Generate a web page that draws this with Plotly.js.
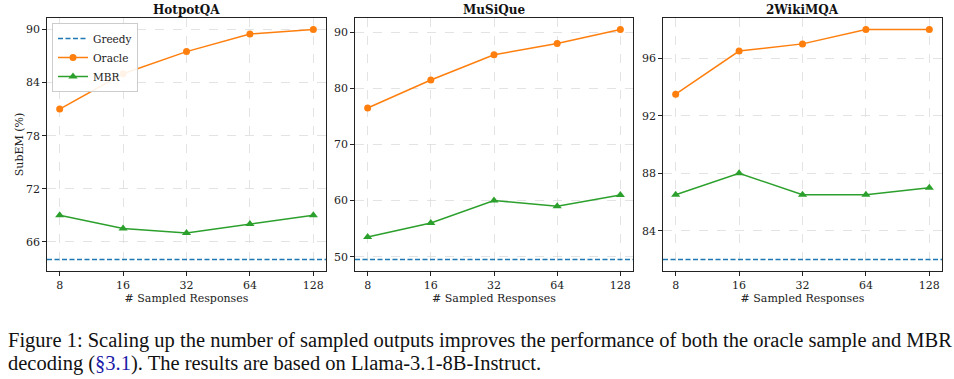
<!DOCTYPE html>
<html><head><meta charset="utf-8">
<script src="https://cdn.plot.ly/plotly-3.0.1.min.js"></script>
<style>html,body{margin:0;padding:0;background:#fff}#c{width:954px;height:379px}</style>
</head><body><div id="c"></div>
<script>
const samples = [8, 16, 32, 64, 128];
const datasets = ["HotpotQA", "MuSiQue", "2WikiMQA"];
const oracleHotpot = [81, 85, 87.5, 89.5, 90];
const mbrHotpot = [69, 67.5, 67, 68, 69];
const oracleMusique = [76.5, 81.5, 86, 88, 90.5];
const mbrMusique = [53.5, 56, 60, 59, 61];
const oracleWiki = [93.5, 96.5, 97, 98, 98];
const mbrWiki = [86.5, 88, 86.5, 86.5, 87];
const greedy = [64, 49.5, 82];
const yTicks = [[66, 72, 78, 84, 90], [50, 60, 70, 80, 90], [84, 88, 92, 96]];
const caption1 = "Figure 1: Scaling up the number of sampled outputs improves the performance of both the oracle sample and MBR";
const caption2 = "decoding (<span style='color:#1a1aa6'>§3.1</span>). The results are based on Llama-3.1-8B-Instruct.";

const oracles = [oracleHotpot, oracleMusique, oracleWiki];
const mbrs = [mbrHotpot, mbrMusique, mbrWiki];

const W = 954, H = 379;
const xPix = [[47, 326], [355, 633], [663, 942]];
const yTop = 18, yBot = 271;
const serif = "DejaVu Serif, serif";
const greedyDash = "5px,2.5px";

const traces = [];
const layout = {
  width: W, height: H, margin: {l: 0, r: 0, t: 0, b: 0},
  paper_bgcolor: "#fff", plot_bgcolor: "#fff",
  showlegend: true,
  legend: {x: 52 / W, y: 1 - 23 / H, xanchor: "left", yanchor: "top",
    bgcolor: "rgba(255,255,255,0.9)", bordercolor: "#ccc", borderwidth: 1,
    font: {family: serif, size: 10.5, color: "#222"}, tracegroupgap: 0, itemwidth: 30},
  annotations: [], shapes: []
};

traces.push({x: [null], y: [null], mode: "lines", name: "Greedy",
  line: {color: "#1f77b4", width: 1.4, dash: greedyDash}, xaxis: "x", yaxis: "y", showlegend: true, legendrank: 1});

for (let i = 0; i < 3; i++) {
  const s = i === 0 ? "" : String(i + 1);
  const lo = Math.min(greedy[i], ...oracles[i], ...mbrs[i]);
  const hi = Math.max(greedy[i], ...oracles[i], ...mbrs[i]);
  const pad = (hi - lo) * 0.05;
  const lx = Math.log10(samples[0]), hx = Math.log10(samples[samples.length - 1]);
  const px = (hx - lx) * 0.05;
  const axCommon = {
    showline: true, mirror: true, linecolor: "#222", linewidth: 1.2,
    ticks: "outside", ticklen: 3.5, tickcolor: "#222", tickwidth: 1,
    showgrid: true, gridcolor: "#dcdcdc", griddash: "dash", gridwidth: 0.8,
    zeroline: false, tickfont: {family: serif, size: 11, color: "#222"}
  };
  layout["xaxis" + s] = Object.assign({}, axCommon, {
    type: "log", range: [lx - px, hx + px], tickmode: "array",
    tickvals: samples, ticktext: samples.map(String),
    domain: [xPix[i][0] / W, xPix[i][1] / W], anchor: "y" + s,
    title: {text: "# Sampled Responses", font: {family: serif, size: 11, color: "#222"}, standoff: 0}
  });
  layout["yaxis" + s] = Object.assign({}, axCommon, {
    range: [lo - pad, hi + pad], tickmode: "array", tickvals: yTicks[i],
    domain: [1 - yBot / H, 1 - yTop / H], anchor: "x" + s,
    title: i === 0 ? {text: "SubEM (%)", font: {family: serif, size: 11, color: "#222"}, standoff: 0} : undefined
  });
  traces.push({x: samples, y: oracles[i], mode: "lines+markers", name: "Oracle",
    line: {color: "#ff7f0e", width: 1.5}, marker: {symbol: "circle", size: 7, color: "#ff7f0e"},
    xaxis: "x" + s, yaxis: "y" + s, showlegend: i === 0, legendrank: 2});
  traces.push({x: samples, y: mbrs[i], mode: "lines+markers", name: "MBR",
    line: {color: "#2ca02c", width: 1.5}, marker: {symbol: "triangle-up", size: 8, color: "#2ca02c"},
    xaxis: "x" + s, yaxis: "y" + s, showlegend: i === 0, legendrank: 3});
  layout.shapes.push({type: "line", xref: "x" + s + " domain", yref: "y" + s,
    x0: 0, x1: 1, y0: greedy[i], y1: greedy[i],
    line: {color: "#1f77b4", width: 1.4, dash: greedyDash}});
  layout.annotations.push({text: "<b>" + datasets[i] + "</b>", xref: "paper", yref: "paper",
    x: (xPix[i][0] + xPix[i][1]) / 2 / W, y: 1 - 10 / H, xanchor: "center", yanchor: "middle",
    showarrow: false, font: {family: serif, size: 12, color: "#111"}});
}

const capFont = {family: "Liberation Serif, Times New Roman, serif", size: 20.5, color: "#111"};
layout.annotations.push({text: caption1, xref: "paper", yref: "paper", x: 6 / W, y: 1 - 340 / H,
  xanchor: "left", yanchor: "middle", showarrow: false, font: capFont});
layout.annotations.push({text: caption2, xref: "paper", yref: "paper", x: 6 / W, y: 1 - 363 / H,
  xanchor: "left", yanchor: "middle", showarrow: false, font: capFont});

Plotly.newPlot("c", traces, layout, {staticPlot: true, displayModeBar: false});
</script></body></html>
